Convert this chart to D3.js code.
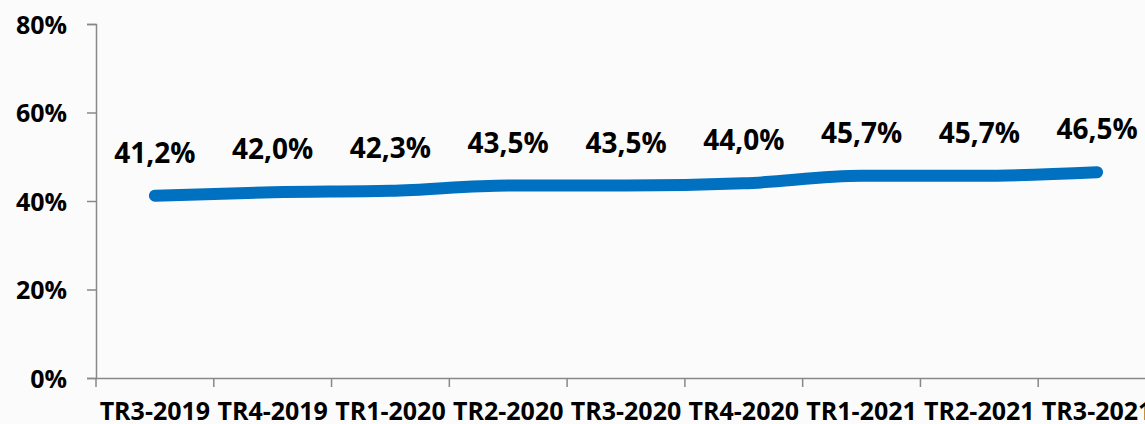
<!DOCTYPE html>
<html>
<head>
<meta charset="utf-8">
<script src="https://cdn.jsdelivr.net/npm/d3@7"></script>
<style>
  body { margin: 0; background: #fbfbfb; overflow: hidden; }
  text { font-family: "Open Sans", sans-serif; font-weight: bold; fill: #000; }
</style>
</head>
<body>
<main></main>
<script>
// quarters + share values (%)
let quarters = ["TR3-2019", "TR4-2019", "TR1-2020", "TR2-2020", "TR3-2020", "TR4-2020", "TR1-2021", "TR2-2021", "TR3-2021"]
let values = [41.2, 42.0, 42.3, 43.5, 43.5, 44.0, 45.7, 45.7, 46.5]
let yTicks = [0, 20, 40, 60, 80]

let width = 1145, height = 424
let svg = d3.select('main').append('svg')
    .attr('width', width)
    .attr('height', height)
    .style('display', 'block')

let x = d3.scaleBand()
    .domain(quarters)
    .range([96, 1156])

let y = d3.scaleLinear()
    .domain([0, 80])
    .range([378, 24])

// y axis
let yAxis = svg.append('g')
    .attr('transform', 'translate(96,0)')
    .call(d3.axisLeft(y).tickValues(yTicks).tickSize(9).tickPadding(20).tickFormat(d => d + '%'))
yAxis.select('.domain').attr('stroke', '#888').attr('stroke-width', 1.5)
yAxis.selectAll('.tick line').attr('stroke', '#888').attr('stroke-width', 1.5)
yAxis.selectAll('.tick text').style('font-size', '25px').attr('dy', '0.36em')

// x axis, ticks sit on band edges
let xAxis = svg.append('g')
    .attr('transform', 'translate(0,378)')
    .call(d3.axisBottom(x).tickSize(0).tickPadding(24))
xAxis.select('.domain').attr('stroke', '#888').attr('stroke-width', 1.5)
xAxis.selectAll('.tick line').remove()
xAxis.selectAll('.tick text').style('font-size', '25px').attr('dy', '0.71em')
svg.append('g')
    .selectAll('line')
    .data(quarters)
    .join('line')
    .attr('x1', d => x(d))
    .attr('x2', d => x(d))
    .attr('y1', 378)
    .attr('y2', 387)
    .attr('stroke', '#888')
    .attr('stroke-width', 1.5)

let cx = d => x(d) + x.bandwidth() / 2

let line = d3.line()
    .x((d, i) => cx(quarters[i]))
    .y(d => y(d))
    .curve(d3.curveMonotoneX)

svg.append('path')
    .datum(values)
    .attr('d', line)
    .style('fill', 'none')
    .style('stroke', '#0070c0')
    .style('stroke-width', 12)
    .style('stroke-linecap', 'round')
    .style('stroke-linejoin', 'round')

svg.append('g')
    .selectAll('text')
    .data(values)
    .join('text')
    .attr('x', (d, i) => cx(quarters[i]))
    .attr('y', d => y(d) - 33)
    .attr('text-anchor', 'middle')
    .style('font-size', '28px')
    .text(d => d.toFixed(1).replace('.', ',') + '%')
</script>
</body>
</html>
